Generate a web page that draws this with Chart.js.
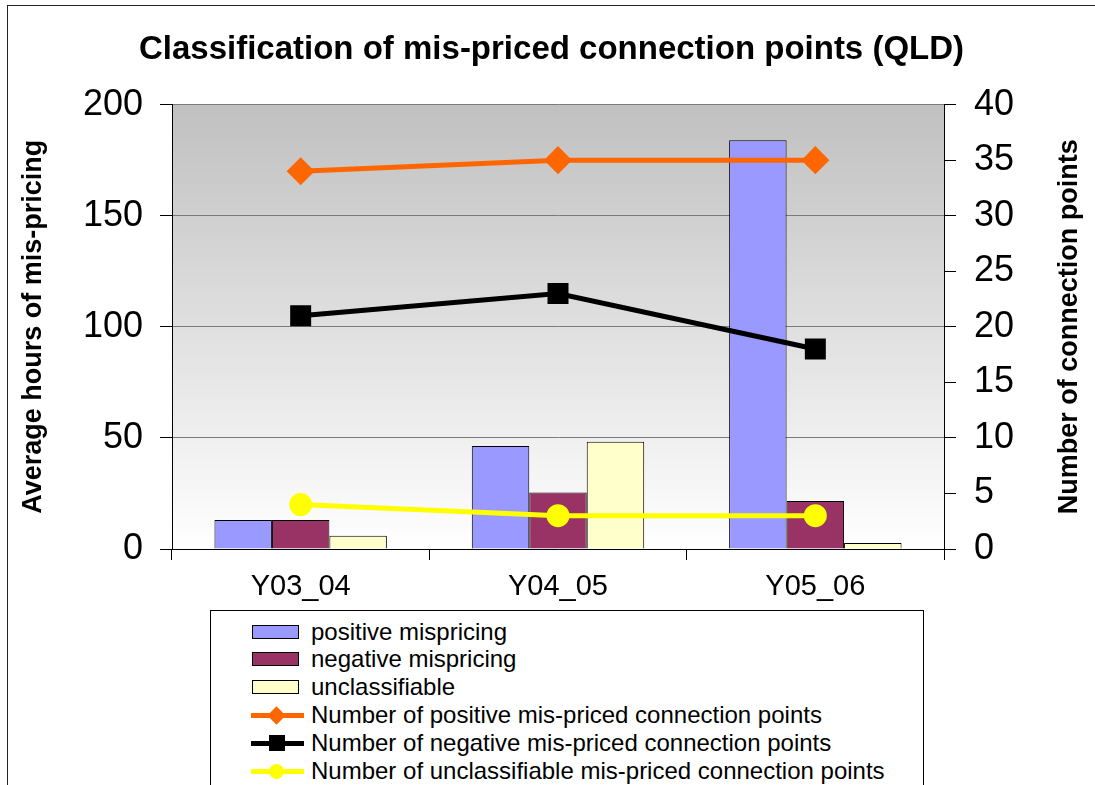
<!DOCTYPE html>
<html>
<head>
<meta charset="utf-8">
<title>Classification of mis-priced connection points (QLD)</title>
<script src="https://cdn.jsdelivr.net/npm/chart.js@4"></script>
<style>
    body { margin: 0; background: #fff; font-family: "Liberation Sans", Arial, sans-serif; }
    #wrap { position: relative; width: 1095px; height: 785px; overflow: hidden; }
    #frame { position: absolute; left: 7px; top: 5px; width: 1100px; height: 800px; border: 1px solid #222; }
    #myChart { position: absolute; left: 0; top: 0; }
    #legend { position: absolute; left: 210px; top: 610px; width: 712px; height: 200px; border: 1px solid #000; background: #fff; }
    .item { position: absolute; left: 0; height: 28px; width: 700px; }
    .item span { position: absolute; left: 100px; top: 0; line-height: 28px; font-size: 24px; color: #000; white-space: nowrap; }
    .box { position: absolute; left: 41px; top: 7px; width: 45px; height: 12px; border: 1.5px solid #000; }
    .line { position: absolute; left: 40px; top: 12px; width: 53px; height: 5px; }
    .mark { position: absolute; }
</style>
</head>
<body>
<div id="wrap">
    <div id="frame"></div>
    <canvas id="myChart" width="1095" height="785"></canvas>
    <div id="legend"></div>
</div>
<script>
// data
const categories = ['Y03_04', 'Y04_05', 'Y05_06'];
const positiveHours = [13, 46.4, 184];
const negativeHours = [13, 25.4, 21.6];
const unclassHours = [6, 48.3, 2.7];
const positivePoints = [34, 35, 35];
const negativePoints = [21, 23, 18];
const unclassPoints = [4, 3, 3];
const hoursTicks = [0, 50, 100, 150, 200];
const pointsTicks = [0, 5, 10, 15, 20, 25, 30, 35, 40];

const barLabels = ['positive mispricing', 'negative mispricing', 'unclassifiable'];
const lineLabels = [
    'Number of positive mis-priced connection points',
    'Number of negative mis-priced connection points',
    'Number of unclassifiable mis-priced connection points'
];

const FONT = '"Liberation Sans", Arial, sans-serif';
Chart.defaults.font.family = FONT;
Chart.defaults.color = '#000';

// grey-to-white plot area
const plotBackground = {
    id: 'plotBackground',
    beforeDraw(chart) {
        const { ctx, chartArea: a } = chart;
        const g = ctx.createLinearGradient(0, a.top, 0, a.bottom);
        g.addColorStop(0, '#c0c0c0');
        g.addColorStop(1, '#ffffff');
        ctx.save();
        ctx.fillStyle = g;
        ctx.fillRect(a.left, a.top, a.width, a.height);
        ctx.restore();
    }
};

// right axis title reads bottom-to-top like the left one
const rightTitle = {
    id: 'rightTitle',
    afterDraw(chart) {
        const s = chart.scales.y1;
        const a = chart.chartArea;
        const ctx = chart.ctx;
        ctx.save();
        ctx.translate(s.right - 4 - 16.2, (a.top + a.bottom) / 2);
        ctx.rotate(-Math.PI / 2);
        ctx.font = 'bold 27px ' + FONT;
        ctx.fillStyle = '#000';
        ctx.textAlign = 'center';
        ctx.textBaseline = 'middle';
        ctx.fillText('Number of connection points', 0, 0);
        ctx.restore();
    }
};

const ctx = document.getElementById('myChart');

new Chart(ctx, {
    type: 'bar',
    data: {
        labels: categories,
        datasets: [{
            label: barLabels[0],
            data: positiveHours,
            backgroundColor: '#9999ff',
            borderColor: '#000',
            borderWidth: 1,
            yAxisID: 'y',
            order: 2
        }, {
            label: barLabels[1],
            data: negativeHours,
            backgroundColor: '#993366',
            borderColor: '#000',
            borderWidth: 1,
            yAxisID: 'y',
            order: 2
        }, {
            label: barLabels[2],
            data: unclassHours,
            backgroundColor: '#ffffcc',
            borderColor: '#000',
            borderWidth: 1,
            yAxisID: 'y',
            order: 2
        }, {
            type: 'line',
            label: lineLabels[0],
            data: positivePoints,
            borderColor: '#ff6600',
            backgroundColor: '#ff6600',
            borderWidth: 5,
            pointStyle: 'rectRot',
            pointRadius: 10.5,
            yAxisID: 'y1',
            order: 1
        }, {
            type: 'line',
            label: lineLabels[1],
            data: negativePoints,
            borderColor: '#000',
            backgroundColor: '#000',
            borderWidth: 5,
            pointStyle: 'rect',
            pointRadius: 11.3,
            yAxisID: 'y1',
            order: 1
        }, {
            type: 'line',
            label: lineLabels[2],
            data: unclassPoints,
            borderColor: '#ffff00',
            backgroundColor: '#ffff00',
            borderWidth: 5,
            pointStyle: 'circle',
            pointRadius: 9,
            yAxisID: 'y1',
            order: 1
        }]
    },
    options: {
        responsive: false,
        animation: false,
        categoryPercentage: 0.67,
        barPercentage: 1,
        layout: {
            padding: { left: 13, right: 5, top: 0, bottom: 176 }
        },
        plugins: {
            legend: { display: false },
            tooltip: { enabled: false },
            title: {
                display: true,
                text: 'Classification of mis-priced connection points (QLD)',
                color: '#000',
                font: { size: 33, weight: 'bold' },
                padding: { top: 30, bottom: 35 }
            }
        },
        scales: {
            x: {
                grid: { drawOnChartArea: false, tickLength: 11, tickColor: '#000', offset: true },
                border: { color: '#000' },
                ticks: { color: '#000', font: { size: 29 }, padding: 10 },
                afterFit(s) { s.height = 60; }
            },
            y: {
                position: 'left',
                min: 0,
                max: 200,
                afterBuildTicks(s) { s.ticks = hoursTicks.map(v => ({ value: v })); },
                grid: { color: '#7a7a7a', tickColor: '#000', tickLength: 12 },
                border: { color: '#000' },
                ticks: { color: '#000', font: { size: 36 }, padding: 17 },
                title: {
                    display: true,
                    text: 'Average hours of mis-pricing',
                    color: '#000',
                    font: { size: 27, weight: 'bold' }
                },
                afterFit(s) { s.width = 159; }
            },
            y1: {
                position: 'right',
                min: 0,
                max: 40,
                afterBuildTicks(s) { s.ticks = pointsTicks.map(v => ({ value: v })); },
                grid: { drawOnChartArea: false, tickColor: '#000', tickLength: 12 },
                border: { color: '#000' },
                ticks: { color: '#000', font: { size: 36 }, padding: 18 },
                afterFit(s) { s.width = 146; }
            }
        }
    },
    plugins: [plotBackground, rightTitle]
});

// legend box under the chart
const legend = document.getElementById('legend');
const rowTops = [7, 34, 62, 90, 118, 146];
const barColors = ['#9999ff', '#993366', '#ffffcc'];
const lineColors = ['#ff6600', '#000', '#ffff00'];

barLabels.forEach((t, i) => {
    const row = document.createElement('div');
    row.className = 'item';
    row.style.top = rowTops[i] + 'px';
    row.innerHTML = '<div class="box" style="background:' + barColors[i] + '"></div><span>' + t + '</span>';
    legend.appendChild(row);
});

const markers = [
    'left:59px;top:8px;width:13px;height:13px;transform:rotate(45deg);',
    'left:58px;top:6px;width:16px;height:16px;',
    'left:58px;top:7px;width:15px;height:15px;border-radius:50%;'
];
lineLabels.forEach((t, i) => {
    const row = document.createElement('div');
    row.className = 'item';
    row.style.top = rowTops[i + 3] + 'px';
    row.innerHTML = '<div class="line" style="background:' + lineColors[i] + '"></div>' +
        '<div class="mark" style="' + markers[i] + 'background:' + lineColors[i] + '"></div>' +
        '<span>' + t + '</span>';
    legend.appendChild(row);
});
</script>
</body>
</html>
